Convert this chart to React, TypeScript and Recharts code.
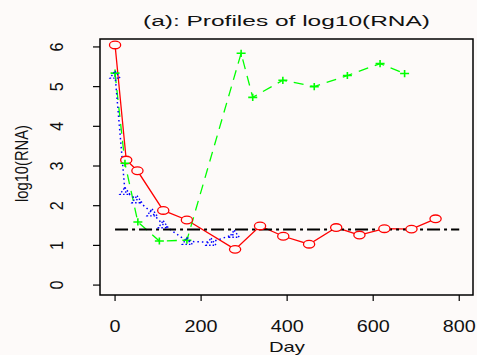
import React from 'react';
import { ComposedChart, Line, XAxis, YAxis, ReferenceArea } from 'recharts';

// values
const redDays = [0, 26, 52, 112, 167, 279, 337, 391, 451, 514, 568, 626, 689, 745];
const redRna = [6.05, 3.15, 2.88, 1.88, 1.64, 0.9, 1.49, 1.23, 1.03, 1.45, 1.26, 1.42, 1.41, 1.67];

const greenDays = [0, 23, 53, 103, 167, 293, 320, 390, 463, 540, 616, 673];
const greenRna = [5.34, 3.07, 1.59, 1.11, 1.13, 5.84, 4.73, 5.16, 5.0, 5.28, 5.58, 5.33];

const blueDays = [0, 23, 51, 86, 112, 168, 223, 277];
const blueRna = [5.29, 2.36, 2.15, 1.82, 1.52, 1.1, 1.08, 1.28];

const refDays = [0, 800];
const refRna = [1.4, 1.4];

const xTicks = [0, 200, 400, 600, 800];
const yTicks = [0, 1, 2, 3, 4, 5, 6];

const X_DOMAIN: [number, number] = [-35, 832];
const Y_DOMAIN: [number, number] = [-0.25, 6.2];

const BG = '#fdfaf9';
const FONT = '"Liberation Sans", Arial, Helvetica, sans-serif';

const toPoints = (xs: number[], ys: number[]) => xs.map((x, i) => ({ day: x, rna: ys[i] }));

const redData = toPoints(redDays, redRna);
const greenData = toPoints(greenDays, greenRna);
const blueData = toPoints(blueDays, blueRna);
const refData = toPoints(refDays, refRna);

const CircleDot = (props: any) => {
  const { cx, cy, index } = props;
  return <ellipse key={`c${index}`} cx={cx} cy={cy} rx={5.6} ry={3.8} stroke="#ff0000" strokeWidth={1.3} fill={BG} />;
};

const PlusDot = (props: any) => {
  const { cx, cy, index } = props;
  return (
    <path
      key={`p${index}`}
      d={`M${cx - 4.5},${cy}H${cx + 4.5}M${cx},${cy - 3.6}V${cy + 3.6}`}
      stroke="#00ff00"
      strokeWidth={1.6}
      fill="none"
    />
  );
};

const TriangleDot = (props: any) => {
  const { cx, cy, index } = props;
  return (
    <path
      key={`t${index}`}
      d={`M${cx},${cy - 4}L${cx + 5},${cy + 3}L${cx - 5},${cy + 3}Z`}
      stroke="#0000ff"
      strokeWidth={1.4}
      strokeDasharray="1.5 2"
      fill="none"
    />
  );
};

const XTick = (props: any) => {
  const { x, y, payload } = props;
  const label = String(payload.value);
  return (
    <text x={x} y={y + 31} textAnchor="middle" fontFamily={FONT} fontSize={16} fill="#111"
      textLength={11 * label.length} lengthAdjust="spacingAndGlyphs">
      {label}
    </text>
  );
};

const YTick = (props: any) => {
  const { x, y, payload } = props;
  const label = String(payload.value);
  return (
    <text transform={`translate(${x - 30},${y}) rotate(-90)`} textAnchor="middle" fontFamily={FONT}
      fontSize={19} fill="#111" textLength={9 * label.length} lengthAdjust="spacingAndGlyphs">
      {label}
    </text>
  );
};

export default function App() {
  return (
    <div style={{ position: 'absolute', left: 0, top: 0, width: 477, height: 355, background: BG, overflow: 'hidden' }}>
      <ComposedChart width={477} height={355} margin={{ top: 39, right: 4, bottom: 30, left: 60 }}>
        <XAxis
          dataKey="day"
          type="number"
          domain={X_DOMAIN}
          allowDataOverflow
          ticks={xTicks}
          axisLine={false}
          tickSize={6}
          tickMargin={0}
          tickLine={{ stroke: '#000', strokeWidth: 1.2 }}
          tick={<XTick />}
          height={30}
        />
        <YAxis
          type="number"
          domain={Y_DOMAIN}
          allowDataOverflow
          ticks={yTicks}
          axisLine={false}
          tickSize={7}
          tickMargin={0}
          tickLine={{ stroke: '#000', strokeWidth: 1.2 }}
          tick={<YTick />}
          width={40}
        />
        <ReferenceArea x1={X_DOMAIN[0]} x2={X_DOMAIN[1]} y1={Y_DOMAIN[0]} y2={Y_DOMAIN[1]}
          fill="none" stroke="#000" strokeWidth={1.5} fillOpacity={0} />
        <Line data={redData} dataKey="rna" stroke="#ff0000" strokeWidth={1.3}
          dot={CircleDot} activeDot={false} isAnimationActive={false} />
        <Line data={greenData} dataKey="rna" stroke="#00ff00" strokeWidth={1.3} strokeDasharray="10 7"
          dot={PlusDot} activeDot={false} isAnimationActive={false} />
        <Line data={blueData} dataKey="rna" stroke="#0000ff" strokeWidth={1.5} strokeDasharray="1.5 3"
          dot={TriangleDot} activeDot={false} isAnimationActive={false} />
        <Line data={refData} dataKey="rna" stroke="#000" strokeWidth={1.8} strokeDasharray="13 4 3 4"
          dot={false} activeDot={false} isAnimationActive={false} />
      </ComposedChart>
      <svg width={477} height={355} style={{ position: 'absolute', left: 0, top: 0, pointerEvents: 'none' }}>
        <text x={286.5} y={25.5} textAnchor="middle" fontFamily={FONT} fontSize={15.5} fill="#111"
          textLength={287} lengthAdjust="spacingAndGlyphs">
          (a): Profiles of log10(RNA)
        </text>
        <text x={287} y={351.5} textAnchor="middle" fontFamily={FONT} fontSize={15} fill="#111"
          textLength={36} lengthAdjust="spacingAndGlyphs">
          Day
        </text>
        <text transform="translate(28,163.5) rotate(-90)" textAnchor="middle" fontFamily={FONT} fontSize={18}
          fill="#111" textLength={77} lengthAdjust="spacingAndGlyphs">
          log10(RNA)
        </text>
      </svg>
    </div>
  );
}
